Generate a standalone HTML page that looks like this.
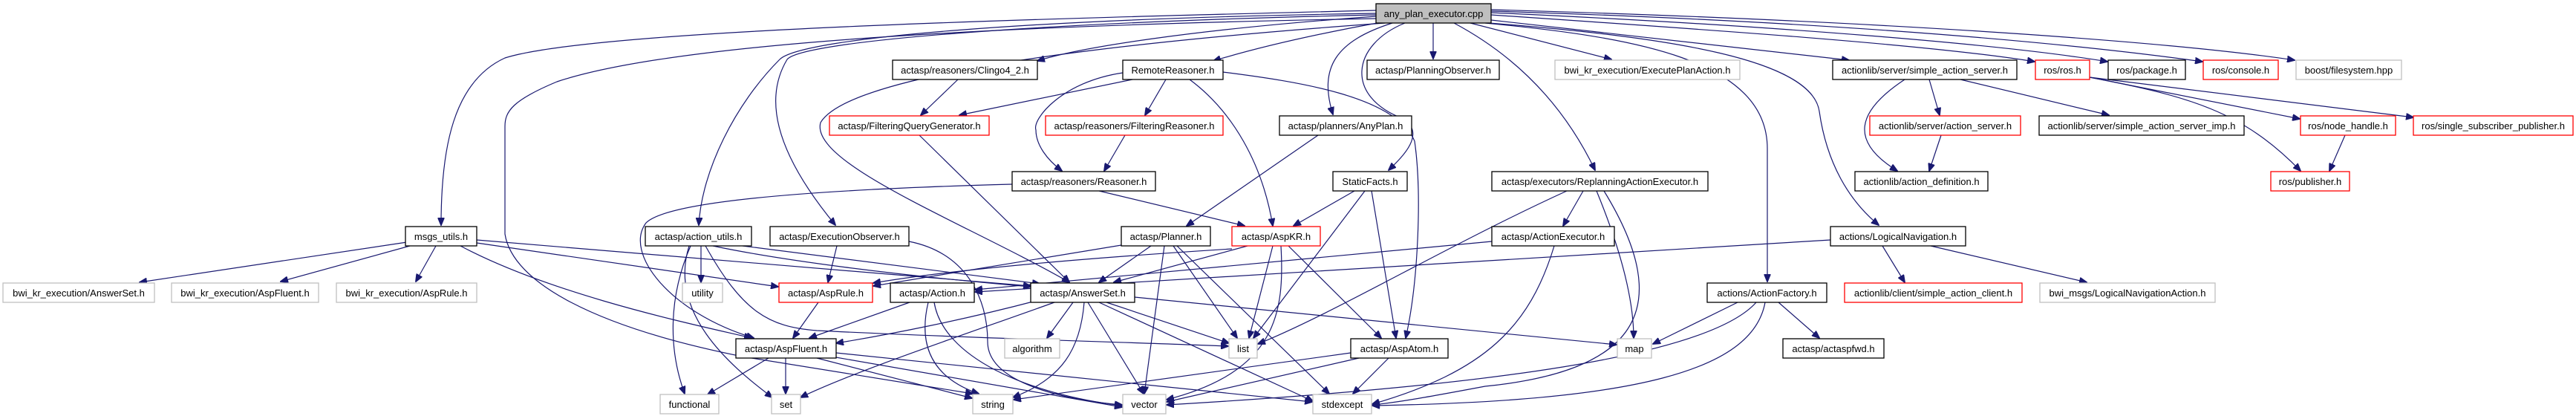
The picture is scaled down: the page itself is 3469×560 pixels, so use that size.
<!DOCTYPE html>
<html><head><meta charset="utf-8"><style>
html,body{margin:0;padding:0;background:#fff;width:3469px;height:560px;overflow:hidden}
svg{display:block}
text{font-family:"Liberation Sans",sans-serif;font-size:13px;fill:#000}
.e{fill:none;stroke:#191970;stroke-width:1.2}
.n{fill:#fff;stroke:#000;stroke-width:1.3}
.g{fill:#fff;stroke:#bfbfbf;stroke-width:1.3}
.r{fill:#fff;stroke:#ff0000;stroke-width:1.3}
.root{fill:#bfbfbf;stroke:#000;stroke-width:1.3}
</style></head><body>
<svg width="3469" height="560" viewBox="0 0 3469 560" xmlns="http://www.w3.org/2000/svg">
<defs><marker id="a" markerUnits="userSpaceOnUse" markerWidth="11" markerHeight="9" refX="10" refY="4.5" orient="auto"><path d="M0,0 L11,4.5 L0,9 z" fill="#191970" stroke="#191970"/></marker></defs>
<g class="e" marker-end="url(#a)">
<!-- root edges -->
<path d="M1853,14 C1400,25 800,40 680,78 C610,110 594,200 594,303"/>
<path d="M1853,18 C1400,25 1080,50 1050,80 C990,140 945,230 941,303"/>
<path d="M1853,20 C1400,30 1080,55 1060,80 C1030,130 1040,200 1125,303"/>
<path d="M1853,22 C1600,40 1450,65 1397,82"/>
<path d="M1860,30 C1750,50 1680,68 1634,82"/>
<path d="M1865,31 C1600,50 1150,90 1105,165 C1090,220 1300,300 1440,380"/>
<path d="M1853,25 C1300,35 900,60 750,110 C690,135 680,150 680,170 L680,315 C690,380 800,440 1000,480 C1150,505 1250,520 1310,530"/>
<path d="M1875,31 C1800,55 1775,90 1795,154"/>
<path d="M1892,31 C1820,60 1810,130 1890,160 C1920,180 1890,210 1870,229"/>
<path d="M1930,31 L1930,79"/>
<path d="M1980,31 L2170,80"/>
<path d="M1958,31 C2050,80 2110,150 2148,229"/>
<path d="M2000,31 C2200,50 2380,80 2380,200 L2380,379"/>
<path d="M2005,31 C2250,50 2440,80 2450,150 C2460,220 2490,270 2530,303"/>
<path d="M2008,27 L2490,81"/>
<path d="M2008,20 C2300,40 2600,60 2740,83"/>
<path d="M2008,17 C2400,35 2700,60 2838,83"/>
<path d="M2008,15 C2500,30 2800,60 2966,83"/>
<path d="M2008,13 C2600,30 2950,60 3090,81"/>
<!-- msgs_utils -->
<path d="M548,326 L188,380"/>
<path d="M552,331 L378,379"/>
<path d="M587,331 L560,379"/>
<path d="M620,331 C750,400 950,440 1012,455"/>
<path d="M642,327 L1048,386"/>
<path d="M642,323 L1388,385"/>
<!-- reasoners -->
<path d="M1290,107 L1240,155"/>
<path d="M1525,107 L1292,155"/>
<path d="M1570,107 L1542,155"/>
<path d="M1512,98 C1430,110 1390,160 1395,175 C1395,195 1410,215 1430,230"/>
<path d="M1602,107 C1660,150 1700,220 1714,304"/>
<path d="M1647,97 C1750,110 1880,130 1905,190 C1915,260 1910,380 1893,455"/>
<path d="M1515,182 L1487,230"/>
<path d="M1238,182 L1440,380"/>
<path d="M1480,257 L1676,304"/>
<path d="M1363,248 C1100,255 900,270 870,300 C840,340 900,420 1015,455"/>
<path d="M1775,182 L1598,304"/>
<path d="M1824,257 L1742,304"/>
<path d="M1838,257 L1688,455"/>
<path d="M1847,257 L1880,455"/>
<!-- planner / aspkr -->
<path d="M1510,330 L1176,385"/>
<path d="M1550,331 L1480,380"/>
<path d="M1580,331 L1666,455"/>
<path d="M1568,331 L1541,530"/>
<path d="M1585,331 L1790,530"/>
<path d="M1659,335 C1500,345 1300,360 1176,381"/>
<path d="M1680,331 L1500,380"/>
<path d="M1714,331 L1682,455"/>
<path d="M1725,331 C1730,420 1720,500 1571,538"/>
<path d="M1735,331 L1860,455"/>
<!-- action_utils -->
<path d="M944,331 L944,380"/>
<path d="M1000,331 L1400,382"/>
<path d="M950,331 C1000,420 1035,440 1100,445 C1300,455 1500,460 1654,466"/>
<path d="M930,331 C900,400 900,470 922,530"/>
<path d="M928,331 C900,420 980,490 1040,535"/>
<path d="M960,331 C1050,350 1200,370 1388,386"/>
<!-- exec obs -->
<path d="M1127,331 L1115,380"/>
<path d="M1224,325 C1300,340 1330,400 1330,460 C1330,520 1450,540 1511,545"/>
<!-- aspRule / Action / AnswerSet -->
<path d="M1102,407 L1068,455"/>
<path d="M1225,407 L1090,455"/>
<path d="M1250,407 C1235,470 1260,510 1318,530"/>
<path d="M1258,407 C1270,480 1380,530 1511,546"/>
<path d="M1395,405 C1300,430 1200,450 1126,462"/>
<path d="M1445,407 L1410,455"/>
<path d="M1490,407 L1655,462"/>
<path d="M1460,407 C1455,470 1430,510 1364,535"/>
<path d="M1465,407 L1540,530"/>
<path d="M1420,407 C1300,450 1150,500 1078,535"/>
<path d="M1480,407 L1768,540"/>
<path d="M1528,400 L2177,464"/>
<!-- AspFluent -->
<path d="M1035,482 L953,531"/>
<path d="M1058,482 L1058,530"/>
<path d="M1100,482 L1309,536"/>
<path d="M1120,480 L1511,548"/>
<path d="M1126,475 L1767,541"/>
<!-- AspAtom -->
<path d="M1819,475 L1365,538"/>
<path d="M1830,482 L1571,541"/>
<path d="M1870,482 L1822,530"/>
<!-- replanning etc -->
<path d="M2132,257 L2105,304"/>
<path d="M2150,257 C2180,330 2200,400 2200,455"/>
<path d="M2160,257 C2260,420 2200,500 2000,520 C1920,535 1880,542 1848,545"/>
<path d="M2110,257 C1950,330 1800,420 1694,463"/>
<path d="M2009,325 L1313,390"/>
<path d="M2093,331 C2060,440 2000,500 1848,544"/>
<path d="M2465,323 L1313,393"/>
<path d="M2535,331 L2565,380"/>
<path d="M2600,331 L2810,380"/>
<path d="M2340,407 L2226,463"/>
<path d="M2395,407 L2450,455"/>
<path d="M2365,407 C2300,480 2000,520 1571,545"/>
<path d="M2377,407 C2360,500 2200,540 1848,546"/>
<!-- actionlib / ros -->
<path d="M2598,107 L2612,155"/>
<path d="M2640,107 L2840,155"/>
<path d="M2565,107 C2500,150 2490,190 2555,230"/>
<path d="M2614,182 L2598,230"/>
<path d="M2814,104 L3097,160"/>
<path d="M2814,104 L3250,158"/>
<path d="M2814,104 C2950,130 3020,150 3098,230"/>
<path d="M3158,182 L3137,230"/>
</g>
<!-- nodes -->
<g>
<rect class="root" x="1853" y="5" width="155" height="26"/><text x="1930.5" y="23" text-anchor="middle">any_plan_executor.cpp</text>
<rect class="n" x="546" y="305" width="96" height="26"/><text x="594" y="323" text-anchor="middle">msgs_utils.h</text>
<rect class="g" x="4" y="381" width="204" height="26"/><text x="106" y="399" text-anchor="middle">bwi_kr_execution/AnswerSet.h</text>
<rect class="g" x="231" y="381" width="198" height="26"/><text x="330" y="399" text-anchor="middle">bwi_kr_execution/AspFluent.h</text>
<rect class="g" x="453" y="381" width="189" height="26"/><text x="547.5" y="399" text-anchor="middle">bwi_kr_execution/AspRule.h</text>
<rect class="n" x="1202" y="81" width="195" height="26"/><text x="1299.5" y="99" text-anchor="middle">actasp/reasoners/Clingo4_2.h</text>
<rect class="n" x="1512" y="81" width="135" height="26"/><text x="1579.5" y="99" text-anchor="middle">RemoteReasoner.h</text>
<rect class="r" x="1117" y="156" width="215" height="26"/><text x="1224.5" y="174" text-anchor="middle">actasp/FilteringQueryGenerator.h</text>
<rect class="r" x="1408" y="156" width="239" height="26"/><text x="1527.5" y="174" text-anchor="middle">actasp/reasoners/FilteringReasoner.h</text>
<rect class="n" x="1363" y="231" width="193" height="26"/><text x="1459.5" y="249" text-anchor="middle">actasp/reasoners/Reasoner.h</text>
<rect class="n" x="869" y="305" width="143" height="26"/><text x="940.5" y="323" text-anchor="middle">actasp/action_utils.h</text>
<rect class="n" x="1037" y="305" width="187" height="26"/><text x="1130.5" y="323" text-anchor="middle">actasp/ExecutionObserver.h</text>
<rect class="n" x="1510" y="305" width="120" height="26"/><text x="1570" y="323" text-anchor="middle">actasp/Planner.h</text>
<rect class="r" x="1659" y="305" width="119" height="26"/><text x="1718.5" y="323" text-anchor="middle">actasp/AspKR.h</text>
<rect class="g" x="919" y="381" width="54" height="26"/><text x="946" y="399" text-anchor="middle">utility</text>
<rect class="r" x="1049" y="381" width="126" height="26"/><text x="1112" y="399" text-anchor="middle">actasp/AspRule.h</text>
<rect class="n" x="1199" y="381" width="113" height="26"/><text x="1255.5" y="399" text-anchor="middle">actasp/Action.h</text>
<rect class="n" x="1388" y="381" width="140" height="26"/><text x="1458" y="399" text-anchor="middle">actasp/AnswerSet.h</text>
<rect class="n" x="991" y="456" width="135" height="26"/><text x="1058.5" y="474" text-anchor="middle">actasp/AspFluent.h</text>
<rect class="g" x="1353" y="456" width="74" height="26"/><text x="1390" y="474" text-anchor="middle">algorithm</text>
<rect class="g" x="1655" y="456" width="38" height="26"/><text x="1674" y="474" text-anchor="middle">list</text>
<rect class="g" x="889" y="531" width="79" height="26"/><text x="928.5" y="549" text-anchor="middle">functional</text>
<rect class="g" x="1039" y="531" width="39" height="26"/><text x="1058.5" y="549" text-anchor="middle">set</text>
<rect class="g" x="1310" y="531" width="54" height="26"/><text x="1337" y="549" text-anchor="middle">string</text>
<rect class="g" x="1512" y="531" width="58" height="26"/><text x="1541" y="549" text-anchor="middle">vector</text>
<rect class="n" x="1841" y="81" width="178" height="26"/><text x="1930" y="99" text-anchor="middle">actasp/PlanningObserver.h</text>
<rect class="g" x="2094" y="81" width="249" height="26"/><text x="2218.5" y="99" text-anchor="middle">bwi_kr_execution/ExecutePlanAction.h</text>
<rect class="n" x="2468" y="81" width="248" height="26"/><text x="2592" y="99" text-anchor="middle">actionlib/server/simple_action_server.h</text>
<rect class="n" x="1723" y="156" width="178" height="26"/><text x="1812" y="174" text-anchor="middle">actasp/planners/AnyPlan.h</text>
<rect class="r" x="2518" y="156" width="203" height="26"/><text x="2619.5" y="174" text-anchor="middle">actionlib/server/action_server.h</text>
<rect class="n" x="1795" y="231" width="100" height="26"/><text x="1845" y="249" text-anchor="middle">StaticFacts.h</text>
<rect class="n" x="2009" y="231" width="291" height="26"/><text x="2154.5" y="249" text-anchor="middle">actasp/executors/ReplanningActionExecutor.h</text>
<rect class="n" x="2498" y="231" width="179" height="26"/><text x="2587.5" y="249" text-anchor="middle">actionlib/action_definition.h</text>
<rect class="n" x="2009" y="305" width="165" height="26"/><text x="2091.5" y="323" text-anchor="middle">actasp/ActionExecutor.h</text>
<rect class="n" x="2465" y="305" width="182" height="26"/><text x="2556" y="323" text-anchor="middle">actions/LogicalNavigation.h</text>
<rect class="n" x="2299" y="381" width="161" height="26"/><text x="2379.5" y="399" text-anchor="middle">actions/ActionFactory.h</text>
<rect class="r" x="2484" y="381" width="239" height="26"/><text x="2603.5" y="399" text-anchor="middle">actionlib/client/simple_action_client.h</text>
<rect class="n" x="1819" y="456" width="131" height="26"/><text x="1884.5" y="474" text-anchor="middle">actasp/AspAtom.h</text>
<rect class="g" x="2178" y="456" width="46" height="26"/><text x="2201" y="474" text-anchor="middle">map</text>
<rect class="n" x="2401" y="456" width="136" height="26"/><text x="2469" y="474" text-anchor="middle">actasp/actaspfwd.h</text>
<rect class="g" x="1768" y="531" width="79" height="26"/><text x="1807.5" y="549" text-anchor="middle">stdexcept</text>
<rect class="r" x="2741" y="81" width="73" height="26"/><text x="2777.5" y="99" text-anchor="middle">ros/ros.h</text>
<rect class="n" x="2839" y="81" width="104" height="26"/><text x="2891" y="99" text-anchor="middle">ros/package.h</text>
<rect class="r" x="2967" y="81" width="101" height="26"/><text x="3017.5" y="99" text-anchor="middle">ros/console.h</text>
<rect class="g" x="3092" y="81" width="142" height="26"/><text x="3163" y="99" text-anchor="middle">boost/filesystem.hpp</text>
<rect class="n" x="2746" y="156" width="276" height="26"/><text x="2884" y="174" text-anchor="middle">actionlib/server/simple_action_server_imp.h</text>
<rect class="r" x="3098" y="156" width="128" height="26"/><text x="3162" y="174" text-anchor="middle">ros/node_handle.h</text>
<rect class="r" x="3250" y="156" width="215" height="26"/><text x="3357.5" y="174" text-anchor="middle">ros/single_subscriber_publisher.h</text>
<rect class="r" x="3058" y="231" width="106" height="26"/><text x="3111" y="249" text-anchor="middle">ros/publisher.h</text>
<rect class="g" x="2747" y="381" width="236" height="26"/><text x="2865" y="399" text-anchor="middle">bwi_msgs/LogicalNavigationAction.h</text>
</g>
</svg>
</body></html>
